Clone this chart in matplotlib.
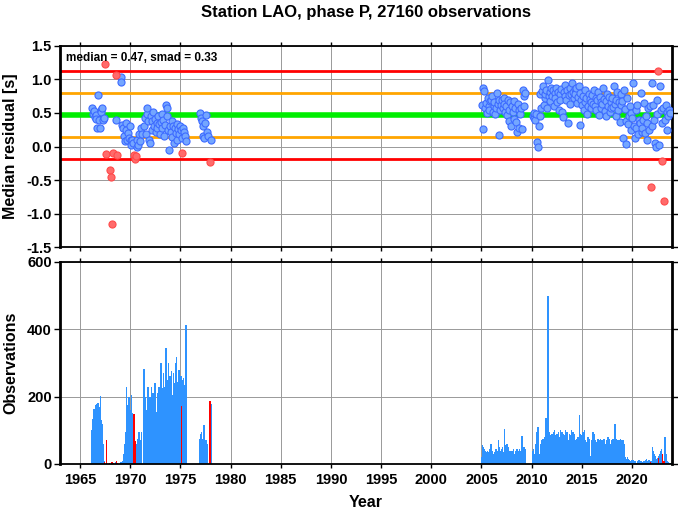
import numpy as np
import matplotlib
matplotlib.use("Agg")
import matplotlib.pyplot as plt

nan = np.nan

# monthly data, first era starts March 1966
early_start = (1966, 3)
early_obs = [
    100, 135, 162, 130, 175, 178, 140, 182, 170, 150,                  # 1966 Mar-Dec
    203, 132, 120, 60, 8, 5, 0, 72, 0, 0, 0, 4,                        # 1967
    0, 6, 5, 4, 0, 0, 7, 9, 3, 0, 0, 0,                                # 1968
    5, 5, 8, 10, 30, 60, 95, 230, 175, 140, 200, 160,                  # 1969
    135, 205, 150, 130, 148, 75, 68, 60, 55, 75, 95, 70,               # 1970
    60, 95, 0, 0, 282, 190, 200, 160, 215, 228, 175, 200,              # 1971
    180, 230, 175, 210, 200, 240, 185, 155, 210, 175, 230, 190,        # 1972
    300, 250, 225, 270, 200, 230, 344, 280, 250, 300, 175, 260,        # 1973
    230, 275, 205, 270, 195, 240, 300, 318, 245, 190, 280, 260,        # 1974
    260, 173, 250, 255, 230, 235, 412, 0, 0, 0, 0, 0,                  # 1975
    0, 0, 0, 0, 0, 0, 0, 0, 0, 0, 0, 75,                               # 1976
    90, 95, 75, 70, 115, 70, 70, 70, 60, 0, 0, 188,                    # 1977
    177,                                                               # 1978 Jan
]
early_res = [
    0.57, 0.49, 0.53, 0.44, 0.47, 0.41, 0.27, 0.77, 0.40, 0.28,
    0.55, 0.52, 0.58, 0.40, 0.42, 1.23, nan, -0.11, nan, nan, nan, -0.35,
    nan, -0.46, -1.16, -0.10, nan, nan, 0.40, 1.06, -0.12, nan, nan, nan,
    1.03, 0.97, 0.32, 0.27, 0.15, 0.08, 0.35, 0.25, 0.10, 0.20, 0.12, 0.30,
    0.10, 0.02, 0.10, 0.05, -0.12, -0.18, -0.14, 0.00, 0.10, 0.02, 0.18, 0.08,
    0.28, 0.18, nan, nan, 0.30, 0.42, 0.19, 0.48, 0.57, 0.38, 0.10, 0.05,
    0.45, 0.38, 0.25, 0.52, 0.30, 0.41, 0.22, 0.35, 0.28, 0.46, 0.33, 0.18,
    0.36, 0.28, 0.49, 0.40, 0.15, 0.32, 0.62, 0.58, 0.45, 0.25, -0.05, 0.30,
    0.22, 0.38, 0.14, 0.31, 0.05, 0.27, 0.20, 0.33, 0.10, 0.26, 0.18, 0.30,
    0.25, -0.09, 0.12, 0.28, 0.22, 0.15, 0.08, nan, nan, nan, nan, nan,
    nan, nan, nan, nan, nan, nan, nan, nan, nan, nan, nan, 0.50,
    0.42, 0.38, 0.30, 0.15, 0.12, 0.35, 0.47, 0.22, 0.15, nan, nan, -0.23,
    0.10,
]

# second era starts January 2005
late_start = (2005, 1)
late_obs = [
    20, 55, 50, 45, 40, 35, 30, 40, 35, 30, 45, 60,                    # 2005
    40, 35, 30, 35, 30, 45, 40, 30, 70, 50, 35, 40,                    # 2006
    45, 50, 35, 105, 55, 40, 60, 45, 50, 40, 35, 40,                   # 2007
    35, 40, 45, 30, 35, 40, 45, 30, 40, 45, 35, 40,                    # 2008
    82, 45, 50, 50, 45, 0, 0, 0, 0, 0, 0, 0,                           # 2009
    0, 40, 45, 30, 60, 35, 95, 109, 50, 30, 45, 60,                    # 2010
    70, 75, 60, 80, 65, 137, 85, 500, 100, 95, 80, 85,                 # 2011
    90, 80, 95, 100, 75, 85, 90, 70, 95, 80, 100, 85,                  # 2012
    95, 90, 75, 85, 100, 80, 95, 70, 65, 90, 85, 100,                  # 2013
    80, 95, 85, 90, 70, 65, 75, 80, 75, 146, 90, 60,                   # 2014
    85, 95, 75, 100, 70, 65, 55, 80, 75, 20, 25, 60,                   # 2015
    70, 95, 90, 80, 70, 65, 60, 75, 70, 65, 75, 60,                    # 2016
    70, 65, 75, 70, 60, 65, 70, 80, 75, 70, 60, 65,                    # 2017
    70, 75, 60, 119, 80, 75, 70, 65, 70, 60, 75, 70,                   # 2018
    65, 70, 60, 20, 15, 15, 20, 15, 12, 10, 10, 12,                    # 2019
    10, 12, 8, 10, 5, 3, 8, 10, 12, 8, 5, 8,                           # 2020
    5, 3, 8, 10, 12, 15, 10, 8, 12, 10, 5, 8,                          # 2021
    50, 40, 30, 25, 20, 15, 18, 18, 25, 30, 40, 45,                    # 2022
    30, 10, 8, 81, 30, 15, 10, 5, 3, 2,                                # 2023 Jan-Oct
]
late_res = [
    0.62, 0.88, 0.26, 0.83, 0.58, 0.65, 0.50, 0.72, 0.60, 0.55, 0.68, 0.70,
    0.75, 0.52, 0.60, 0.66, 0.48, 0.57, 0.80, 0.63, 0.70, 0.17, 0.55, 0.62,
    0.69, 0.58, 0.73, 0.64, 0.52, 0.61, 0.47, 0.70, 0.38, 0.55, 0.66, 0.30,
    0.60, 0.52, 0.68, 0.41, 0.57, 0.36, 0.21, 0.64, 0.55, 0.27, 0.49, 0.58,
    0.26, 0.85, 0.75, 0.60, 0.80, nan, nan, nan, nan, nan, nan, nan,
    nan, 0.46, 0.43, 0.50, 0.40, 0.48, 0.06, 0.00, 0.30, 0.45, 0.78, 0.58,
    0.83, 0.91, 0.62, 0.72, 0.79, 0.85, 0.57, 0.99, 0.76, 0.81, 0.68, 0.88,
    0.75, 0.84, 0.60, 0.80, 0.73, 0.87, 0.66, 0.82, 0.54, 0.78, 0.70, 0.86,
    0.52, 0.44, 0.81, 0.76, 0.92, 0.69, 0.84, 0.35, 0.77, 0.88, 0.63, 0.79,
    0.95, 0.82, 0.72, 0.86, 0.78, 0.88, 0.65, 0.74, 0.91, 0.80, 0.32, 0.69,
    0.62, 0.75, 0.55, 0.67, 0.84, 0.72, 0.49, 0.60, 0.78, 0.71, 0.58, 0.66,
    0.77, 0.64, 0.85, 0.60, 0.72, 0.55, 0.69, 0.81, 0.47, 0.74, 0.66, 0.58,
    0.63, 0.88, 0.71, 0.53, 0.45, 0.68, 0.79, 0.60, 0.74, 0.52, 0.66, 0.57,
    0.72, 0.59, 0.90, 0.64, 0.46, 0.70, 0.81, 0.55, 0.67, 0.37, 0.62, 0.78,
    0.68, 0.12, 0.85, 0.56, 0.38, 0.03, 0.72, 0.33, 0.45, 0.60, 0.25, 0.50,
    0.42, 0.95, 0.30, 0.12, 0.55, 0.28, 0.62, 0.18, 0.40, 0.35, 0.80, 0.22,
    0.28, 0.40, 0.65, 0.20, 0.45, 0.10, 0.35, 0.58, 0.25, 0.60, -0.61, 0.30,
    0.95, 0.62, 0.40, 0.05, 0.00, 0.70, 0.48, 1.13, 0.02, 0.90, 0.55, 0.35,
    -0.22, 0.58, -0.82, 0.40, 0.62, 0.25, 0.52, 0.45, 0.55, 0.50,
]

median = 0.47
smad = 0.33
title = "Station LAO, phase P, 27160 observations"


def month_times(start, n):
    y, m = start
    return y + (m - 1) / 12.0 + np.arange(n) / 12.0 + 1 / 24.0


t = np.concatenate([month_times(early_start, len(early_obs)),
                    month_times(late_start, len(late_obs))])
obs = np.array(early_obs + late_obs, dtype=float)
res = np.array(early_res + late_res, dtype=float)
bad = (res > 1.05) | (res < -0.07)

plt.rcParams['font.family'] = ['Liberation Sans', 'DejaVu Sans']
plt.rcParams['font.weight'] = 'bold'

fig = plt.figure(figsize=(6.78, 5.11), dpi=100)
ax1 = fig.add_axes([0.0885, 0.5166, 0.9027, 0.3934])
ax2 = fig.add_axes([0.0885, 0.092, 0.9027, 0.3953])

xlim = (1963.0, 2024.0)
for ax in (ax1, ax2):
    ax.set_xlim(*xlim)
    ax.set_xticks(np.arange(1965, 2021, 5))
    ax.grid(True, color='#999999', linewidth=0.7)
    ax.set_axisbelow(True)
    ax.spines['left'].set_linewidth(2.0)
    ax.spines['right'].set_linewidth(2.0)
    ax.spines['top'].set_linewidth(1.3)
    ax.spines['bottom'].set_linewidth(1.3)
    ax.tick_params(axis='y', which='both', left=True, right=True, direction='out',
                   length=4, width=1, labelsize=10.5, pad=2)
    ax.tick_params(axis='x', top=True, bottom=True, direction='out', length=3,
                   width=1, labelsize=10.5)
    for lab in ax.get_xticklabels() + ax.get_yticklabels():
        lab.set_fontweight('bold')

# top panel: median residuals
ax1.axhline(median, color='#00ee00', linewidth=4, zorder=2)
ax1.axhline(median + smad, color='#ffa500', linewidth=2, zorder=2)
ax1.axhline(median - smad, color='#ffa500', linewidth=2, zorder=2)
ax1.axhline(median + 2 * smad, color='#ff0000', linewidth=2, zorder=2)
ax1.axhline(median - 2 * smad, color='#ff0000', linewidth=2, zorder=2)
ok = ~bad & ~np.isnan(res)
ax1.scatter(t[ok], res[ok], s=26, facecolor='#74a6ff', edgecolor='#3d6bff',
            linewidth=0.8, zorder=3)
ax1.scatter(t[bad], res[bad], s=26, facecolor='#ff6b6b', edgecolor='#ff4a4a',
            linewidth=0.8, zorder=3)
ax1.set_ylim(-1.5, 1.5)
ax1.set_yticks(np.arange(-1.5, 1.51, 0.5))
ax1.set_yticklabels([f"{v:.1f}" for v in np.arange(-1.5, 1.51, 0.5)], fontweight='bold')
ax1.tick_params(axis='x', labelbottom=False)
ax1.set_ylabel("Median residual [s]", fontsize=11.5, fontweight='bold', labelpad=6)
ax1.text(0.01, 0.97, f"median = {median:.2f}, smad = {smad:.2f}", transform=ax1.transAxes,
         ha='left', va='top', fontsize=8.5, fontweight='bold')
ax1.set_title(title, fontsize=12, fontweight='bold', pad=21)

# bottom panel: observations per month (red months drawn on top)
ax2.bar(t[~bad], obs[~bad], width=0.15, color='#2e93ff', linewidth=0,
        antialiased=False, zorder=2)
ax2.bar(t[bad], obs[bad], width=0.12, color='#ff0000', linewidth=0,
        antialiased=False, zorder=2.5)
ax2.set_ylim(0, 600)
ax2.set_yticks([0, 200, 400, 600])
ax2.set_ylabel("Observations", fontsize=11.5, fontweight='bold', labelpad=6)
ax2.set_xlabel("Year", fontsize=11.5, fontweight='bold', labelpad=6)
for lab in ax2.get_xticklabels() + ax2.get_yticklabels():
    lab.set_fontweight('bold')

fig.savefig("out.png", dpi=100)
